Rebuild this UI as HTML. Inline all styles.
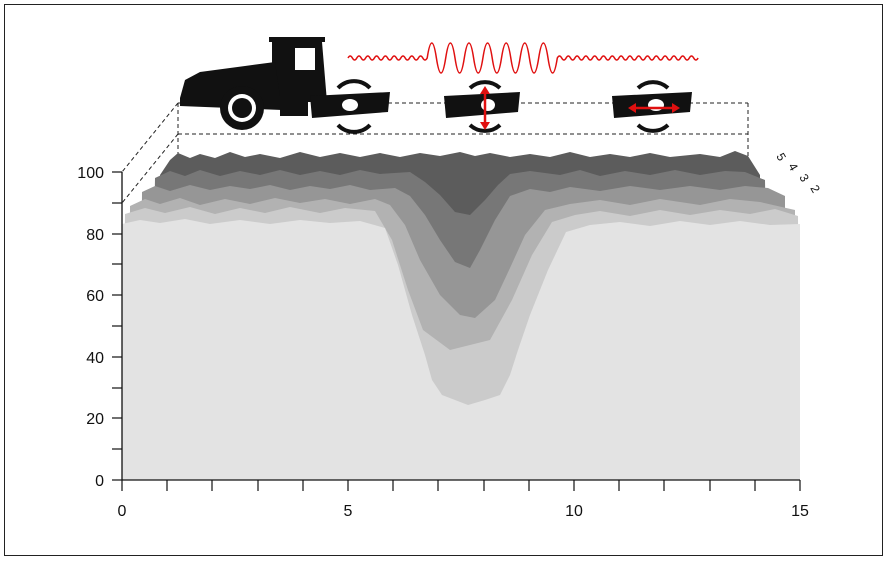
<!DOCTYPE html><html><head><style>body{margin:0;background:#fff}svg{display:block}text{font-family:"Liberation Sans",Arial,sans-serif}</style></head><body>
<svg width="887" height="561" viewBox="0 0 887 561">
<rect x="4.5" y="4.5" width="878" height="551" fill="#fff" stroke="#222" stroke-width="1"/>
<g stroke="#222" stroke-dasharray="4,3" fill="none" stroke-width="1">
<line x1="178" y1="103" x2="748" y2="103"/><line x1="178" y1="134" x2="748" y2="134"/>
<line x1="178" y1="103" x2="178" y2="160"/><line x1="748" y1="103" x2="748" y2="160"/>
<line x1="178" y1="103" x2="122" y2="172"/><line x1="178" y1="134" x2="122" y2="203"/>
</g>
<polygon fill="#5c5c5c" points="170,160 178,153 190,158 200,154 215,158 230,152 245,157 260,154 280,158 300,152 320,157 340,153 360,157 380,153 400,157 420,153 440,156 460,152 475,156 490,153 510,157 530,154 550,157 570,152 590,157 610,154 630,157 650,153 670,157 700,154 720,157 735,151 748,156 760,175 760,480 160,480 160,175"/>
<polygon fill="#777" points="155,178 170,171 185,176 200,170 220,176 240,171 260,175 280,170 300,175 320,171 340,175 360,170 380,174 410,172 425,182 440,195 455,212 470,215 485,200 498,185 510,174 530,171 560,175 580,170 600,176 625,171 650,175 675,170 700,175 725,171 745,172 765,180 770,480 150,480"/>
<polygon fill="#969696" points="142,192 155,186 170,191 190,185 210,190 230,186 250,189 270,185 290,190 310,186 330,189 350,185 370,190 395,188 410,196 425,215 440,240 455,262 470,268 480,250 495,220 510,196 530,189 550,192 570,187 600,191 630,186 660,190 690,186 720,190 745,186 768,188 785,196 785,480 140,480"/>
<polygon fill="#b2b2b2" points="130,206 145,199 160,204 180,198 200,205 225,199 250,204 275,198 300,203 325,199 350,204 375,199 390,205 405,225 420,260 440,295 460,315 475,318 495,300 510,268 525,235 545,210 570,204 600,200 630,205 660,199 700,205 730,199 760,202 795,210 795,480 130,480"/>
<polygon fill="#cbcbcb" points="125,214 145,208 165,213 190,207 215,214 240,208 265,213 290,207 320,213 345,208 375,211 392,240 408,290 423,330 450,350 490,340 512,300 532,255 552,222 575,215 600,211 630,216 660,210 690,215 720,210 750,214 775,209 798,216 800,480 122,480"/>
<polygon fill="#e3e3e3" points="122,224 140,220 160,223 185,219 210,224 240,220 270,224 300,220 330,223 360,221 385,228 398,265 412,315 425,355 432,380 442,395 455,400 468,405 485,400 500,395 510,375 518,350 530,315 548,270 566,232 590,225 620,222 650,226 680,221 710,225 740,221 770,225 800,224 800,480 122,480"/>
<g stroke="#111" stroke-width="1.3">
<line x1="122" y1="172" x2="122" y2="480"/><line x1="122" y1="480" x2="800" y2="480"/>
</g>
<g stroke="#111" stroke-width="1.2">
<line x1="112" y1="480" x2="122" y2="480"/><line x1="112" y1="449" x2="122" y2="449"/><line x1="112" y1="418" x2="122" y2="418"/><line x1="112" y1="388" x2="122" y2="388"/><line x1="112" y1="357" x2="122" y2="357"/><line x1="112" y1="326" x2="122" y2="326"/><line x1="112" y1="295" x2="122" y2="295"/><line x1="112" y1="264" x2="122" y2="264"/><line x1="112" y1="234" x2="122" y2="234"/><line x1="112" y1="203" x2="122" y2="203"/><line x1="112" y1="172" x2="122" y2="172"/>
<line x1="122" y1="480" x2="122" y2="491"/><line x1="167" y1="480" x2="167" y2="491"/><line x1="212" y1="480" x2="212" y2="491"/><line x1="258" y1="480" x2="258" y2="491"/><line x1="303" y1="480" x2="303" y2="491"/><line x1="348" y1="480" x2="348" y2="491"/><line x1="393" y1="480" x2="393" y2="491"/><line x1="438" y1="480" x2="438" y2="491"/><line x1="484" y1="480" x2="484" y2="491"/><line x1="529" y1="480" x2="529" y2="491"/><line x1="574" y1="480" x2="574" y2="491"/><line x1="619" y1="480" x2="619" y2="491"/><line x1="664" y1="480" x2="664" y2="491"/><line x1="710" y1="480" x2="710" y2="491"/><line x1="755" y1="480" x2="755" y2="491"/><line x1="800" y1="480" x2="800" y2="491"/>
</g>
<g font-size="16" fill="#111" text-anchor="end">
<text x="104" y="486">0</text><text x="104" y="424">20</text><text x="104" y="363">40</text><text x="104" y="301">60</text><text x="104" y="240">80</text><text x="104" y="178">100</text>
</g>
<g font-size="16" fill="#111" text-anchor="middle">
<text x="122" y="516">0</text><text x="348" y="516">5</text><text x="574" y="516">10</text><text x="800" y="516">15</text>
</g>
<g font-size="12" fill="#111">
<text transform="translate(776,156) rotate(60)">5</text><text transform="translate(788,166) rotate(60)">4</text><text transform="translate(799,177) rotate(60)">3</text><text transform="translate(810,188) rotate(60)">2</text>
</g>
<g fill="#111">
<rect x="269" y="37" width="56" height="5"/>
<path d="M272 42h50l5 60h-55z"/>
<path d="M180 98 L185 80 L200 72 L245 66 L275 62 L282 110 L180 106z"/>
<circle cx="242" cy="108" r="22"/>
<rect x="280" y="92" width="28" height="24"/>
<path d="M310 96 L390 92 L388 112 L312 118z"/>
<path d="M338 88 A22 22 0 0 1 370 88 M338 125 A22 22 0 0 0 370 125" stroke="#111" stroke-width="4" fill="none"/>
<path d="M444 96 L520 92 L518 112 L446 118z"/>
<path d="M470 88 A22 22 0 0 1 500 88 M470 125 A22 22 0 0 0 500 125" stroke="#111" stroke-width="4" fill="none"/>
<path d="M612 96 L692 92 L690 112 L614 118z"/>
<path d="M638 88 A22 22 0 0 1 668 88 M638 125 A22 22 0 0 0 668 125" stroke="#111" stroke-width="4" fill="none"/>
</g>
<circle cx="242" cy="108" r="14" fill="#fff"/><circle cx="242" cy="108" r="10" fill="#111"/>
<rect x="295" y="48" width="20" height="22" fill="#fff"/>
<ellipse cx="350" cy="105" rx="8" ry="6" fill="#fff"/><ellipse cx="488" cy="105" rx="7" ry="6" fill="#fff"/><ellipse cx="656" cy="105" rx="8" ry="6" fill="#fff"/>
<g stroke="#e01010" stroke-width="2.5" fill="#e01010">
<line x1="485" y1="92" x2="485" y2="124"/><polygon points="485,86 480,94 490,94" stroke="none"/><polygon points="485,130 480,122 490,122" stroke="none"/>
<line x1="634" y1="108" x2="674" y2="108"/><polygon points="628,108 636,103 636,113" stroke="none"/><polygon points="680,108 672,103 672,113" stroke="none"/>
</g>
<path fill="none" stroke="#e01010" stroke-width="1.5" d="M348 58 q2.2 -4 4.4 0 t4.4 0 t4.4 0 t4.4 0 t4.4 0 t4.4 0 t4.4 0 t4.4 0 t4.4 0 t4.4 0 t4.4 0 t4.4 0 t4.4 0 t4.4 0 t4.4 0 t4.4 0 t4.4 0 t4.4 0
q4.6 -30 9.2 0 t9.3 0 t9.3 0 t9.3 0 t9.3 0 t9.3 0 t9.3 0 t9.3 0 t9.3 0 t9.3 0 t9.3 0 t9.3 0 t9.3 0 t9.3 0
q2.2 -4 4.4 0 t4.4 0 t4.4 0 t4.4 0 t4.4 0 t4.4 0 t4.4 0 t4.4 0 t4.4 0 t4.4 0 t4.4 0 t4.4 0 t4.4 0 t4.4 0 t4.4 0 t4.4 0 t4.4 0 t4.4 0 t4.4 0 t4.4 0 t4.4 0 t4.4 0 t4.4 0 t4.4 0 t4.4 0 t4.4 0 t4.4 0 t4.4 0 t4.4 0 t4.4 0 t4.4 0 t4.4 0"/>
</svg></body></html>
